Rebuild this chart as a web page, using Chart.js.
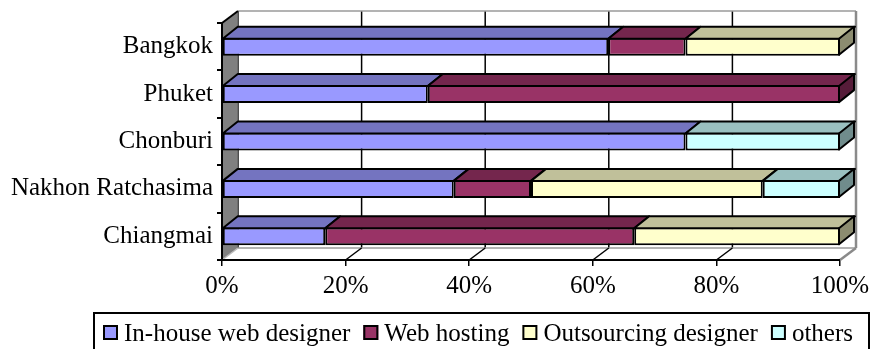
<!DOCTYPE html>
<html><head><meta charset="utf-8">
<script src="https://cdn.jsdelivr.net/npm/chart.js@4/dist/chart.umd.min.js"></script>
<style>html,body{margin:0;padding:0;background:#fff;}#wrap{width:872px;height:349px;}</style>
</head><body><div id="wrap"><canvas id="c" width="872" height="349"></canvas></div>
<script>
// ---- data ----
const categories = ['Bangkok', 'Phuket', 'Chonburi', 'Nakhon Ratchasima', 'Chiangmai'];
const seriesNames = ['In-house web designer', 'Web hosting', 'Outsourcing designer', 'others'];
const inHouse = [62.5, 33.3, 75, 37.5, 16.7];
const webHosting = [12.5, 66.7, 0, 12.5, 50];
const outsourcing = [25, 0, 0, 37.5, 33.3];
const others = [0, 0, 25, 12.5, 0];
const tickValues = [0, 20, 40, 60, 80, 100];

// ---- styles ----
const frontColors = ['#9999FF', '#993366', '#FFFFCC', '#CCFFFF'];
const topColors = ['#7474C0', '#74264D', '#C0C09A', '#9AC0C0'];
const sideColors = ['#55558E', '#561C39', '#8C8C70', '#708C8C'];
const FONT = '"Liberation Serif", "Times New Roman", serif';
const DX = 15, DY = -12, WDX = 16;

const seriesValues = [inHouse, webHosting, outsourcing, others];

function poly(ctx, pts, fill, stroke, lw) {
  ctx.beginPath();
  ctx.moveTo(pts[0][0], pts[0][1]);
  for (let i = 1; i < pts.length; i++) ctx.lineTo(pts[i][0], pts[i][1]);
  ctx.closePath();
  if (fill) { ctx.fillStyle = fill; ctx.fill(); }
  if (stroke) { ctx.strokeStyle = stroke; ctx.lineWidth = lw || 2; ctx.stroke(); }
}
function line(ctx, x1, y1, x2, y2, color, lw) {
  ctx.beginPath(); ctx.moveTo(x1, y1); ctx.lineTo(x2, y2);
  ctx.strokeStyle = color; ctx.lineWidth = lw; ctx.stroke();
}

const walls = {
  id: 'walls',
  beforeDatasetsDraw(chart) {
    const { ctx, chartArea: { left, top, right, bottom }, scales: { x } } = chart;
    ctx.save();
    ctx.lineJoin = 'round';
    // back wall
    ctx.fillStyle = '#fff';
    ctx.fillRect(left + WDX, top + DY, right - left, bottom - top);
    tickValues.forEach(v => {
      const px = x.getPixelForValue(v) + WDX;
      line(ctx, px, top + DY, px, bottom + DY, '#000', 1.5);
    });
    line(ctx, left + WDX, top + DY, right + WDX, top + DY, '#9a9a9a', 1.5);
    line(ctx, right + WDX, top + DY, right + WDX, bottom + DY, '#8a8a8a', 2.5);
    // left wall
    poly(ctx, [[left, top], [left + WDX, top + DY], [left + WDX, bottom + DY], [left, bottom]], '#808080');
    line(ctx, left + WDX, top + DY, left + WDX, bottom + DY, '#5a5a5a', 1);
    line(ctx, left, top, left + WDX, top + DY, '#000', 2);
    // floor
    poly(ctx, [[left, bottom], [right, bottom], [right + WDX, bottom + DY], [left + WDX, bottom + DY]], '#fff');
    line(ctx, left + WDX, bottom + DY, right + WDX, bottom + DY, '#9a9a9a', 1.5);
    line(ctx, right, bottom, right + WDX, bottom + DY, '#8a8a8a', 2.5);
    tickValues.slice(0, -1).forEach(v => {
      const px = x.getPixelForValue(v);
      line(ctx, px, bottom, px + WDX, bottom + DY, v === 0 ? '#bbb' : '#000', 1.5);
    });
    // front axis lines
    line(ctx, left, top, left, bottom + 1, '#000', 2);
    line(ctx, left - 1, bottom, right, bottom, '#000', 2);
    ctx.restore();
  },
  afterDatasetsDraw(chart) {
    const ctx = chart.ctx;
    ctx.save();
    ctx.lineJoin = 'round';
    const n = chart.data.labels.length;
    for (let i = 0; i < n; i++) {
      let last = -1;
      chart.data.datasets.forEach((ds, d) => { if (ds.data[i] > 0) last = d; });
      chart.data.datasets.forEach((ds, d) => {
        if (!(ds.data[i] > 0)) return;
        const el = chart.getDatasetMeta(d).data[i];
        const p = el.getProps(['x', 'y', 'base', 'height'], true);
        const l = Math.min(p.x, p.base), r = Math.max(p.x, p.base);
        const t = p.y - p.height / 2 + 1, b = p.y + p.height / 2 - 1;
        poly(ctx, [[l, t], [r, t], [r + DX, t + DY], [l + DX, t + DY]], topColors[d], '#000', 2);
        if (d === last) {
          poly(ctx, [[r - 1, t], [r - 1 + DX, t + DY], [r - 1 + DX, b + DY], [r - 1, b]], sideColors[d], '#000', 2);
        }
      });
    }
    ctx.restore();
  },
  afterDraw(chart) {
    const ctx = chart.ctx;
    ctx.save();
    // legend frame
    ctx.strokeStyle = '#000'; ctx.lineWidth = 2;
    ctx.strokeRect(94, 313, 775, 40);
    ctx.font = '25px ' + FONT;
    ctx.textBaseline = 'alphabetic';
    let xPos = 103;
    const box = 15, gap = 6, itemGap = 13, boxTop = 325, baseline = 341;
    chart.data.datasets.forEach((ds, d) => {
      ctx.fillStyle = frontColors[d];
      ctx.fillRect(xPos, boxTop, box, box);
      ctx.strokeStyle = '#000'; ctx.lineWidth = 2;
      ctx.strokeRect(xPos + 1, boxTop + 1, box - 2, box - 2);
      ctx.fillStyle = '#000';
      ctx.fillText(ds.label, xPos + box + gap, baseline);
      xPos += box + gap + ctx.measureText(ds.label).width + itemGap;
    });
    ctx.restore();
  }
};

new Chart(document.getElementById('c'), {
  type: 'bar',
  data: {
    labels: categories,
    datasets: seriesNames.map((name, d) => ({
      label: name,
      data: seriesValues[d],
      backgroundColor: frontColors[d],
      borderColor: '#000',
      borderWidth: 2,
      borderSkipped: false,
      barPercentage: 0.38,
      categoryPercentage: 1
    }))
  },
  options: {
    indexAxis: 'y',
    responsive: false,
    animation: false,
    devicePixelRatio: 1,
    layout: { padding: { top: 23, right: 32, left: 0, bottom: 49 } },
    plugins: { legend: { display: false }, tooltip: { enabled: false } },
    scales: {
      x: {
        stacked: true, min: 0, max: 100,
        afterFit(s) { s.height = 40; s.paddingRight = 0; s.paddingLeft = 0; },
        afterBuildTicks(s) { s.ticks = tickValues.map(v => ({ value: v })); },
        ticks: { callback: v => v + '%', color: '#000', font: { family: FONT, size: 25 }, padding: 5, maxRotation: 0 },
        grid: { drawOnChartArea: false, color: '#000', lineWidth: 1.5, tickLength: 6 },
        border: { display: false }
      },
      y: {
        stacked: true,
        afterFit(s) { s.width = 222; },
        ticks: { color: '#000', font: { family: FONT, size: 25 }, padding: 4 },
        grid: { drawOnChartArea: false, color: '#000', lineWidth: 2, tickLength: 5, offset: true },
        border: { display: false }
      }
    }
  },
  plugins: [walls]
});
</script></body></html>
